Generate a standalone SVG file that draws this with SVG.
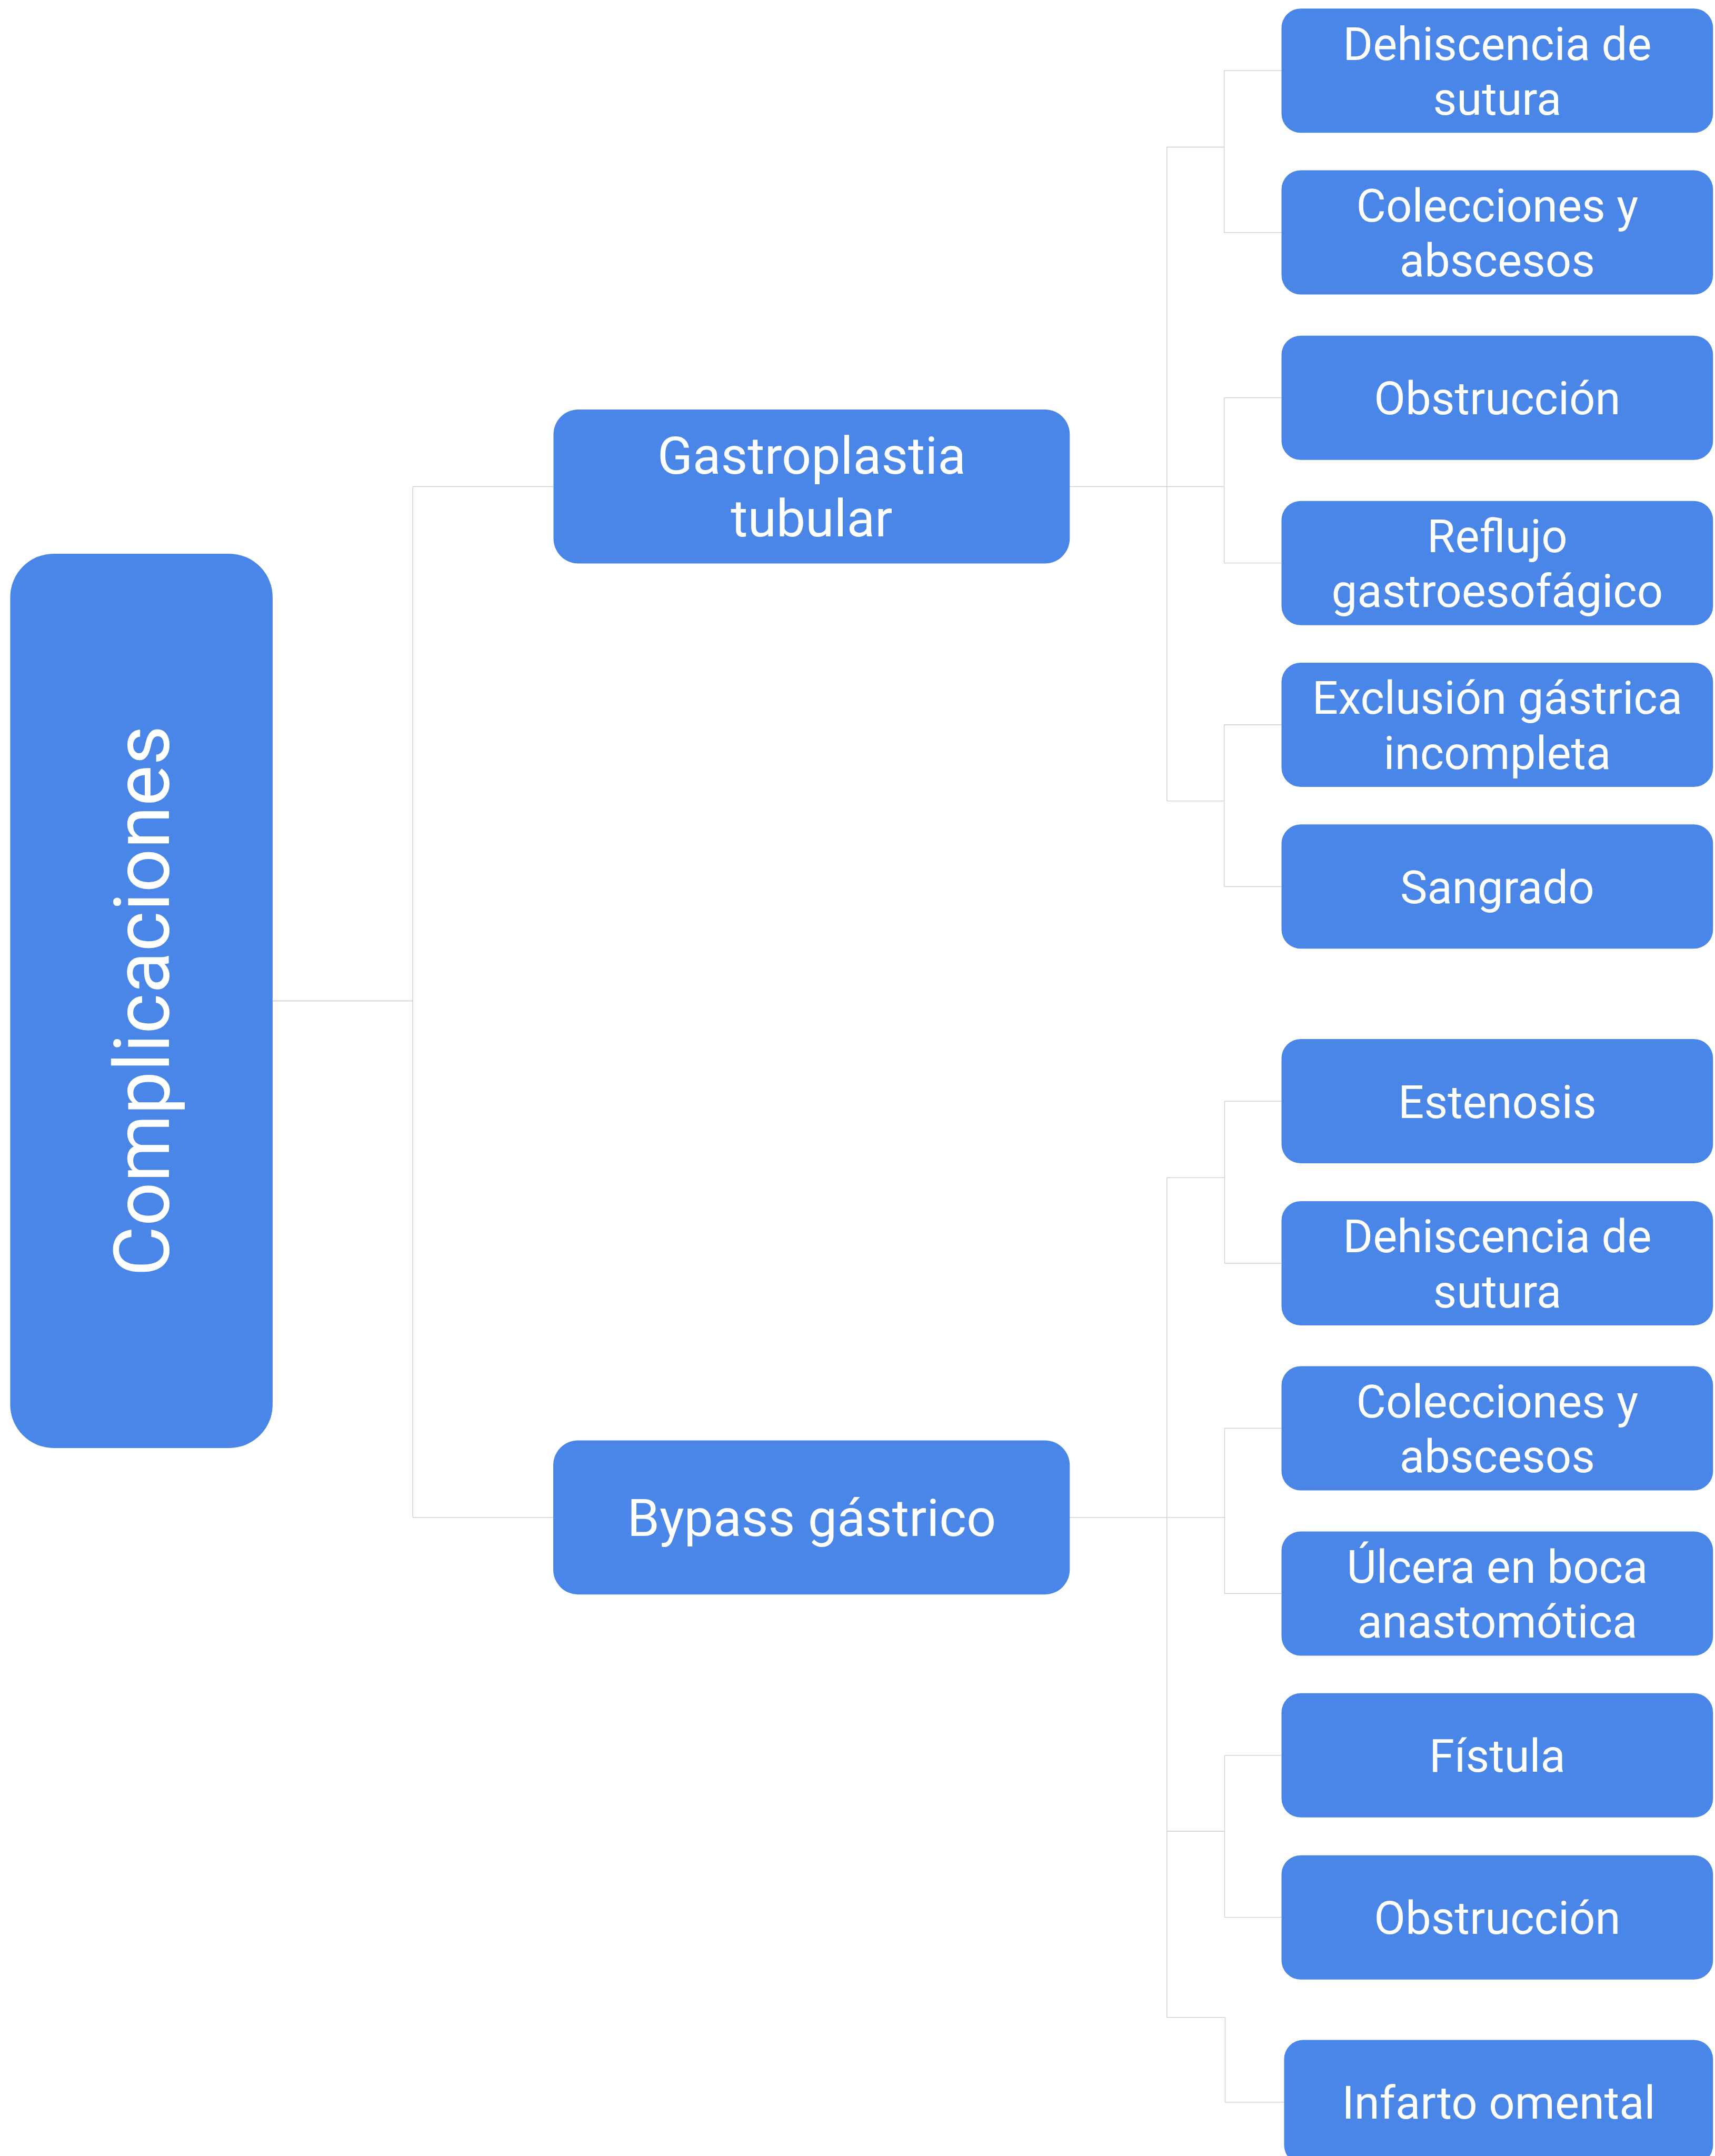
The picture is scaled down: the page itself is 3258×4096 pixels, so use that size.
<svg xmlns="http://www.w3.org/2000/svg" width="3258" height="4096" viewBox="0 0 3258 4096">
<style>
.box{fill:#4a86e8}
.t{font-family:Roboto,"Liberation Sans",sans-serif;fill:#ffffff;text-anchor:middle}
.root{font-size:146.4px}
.mid{font-size:98.6px}
.leaf{font-size:86.8px}
.c{fill:none;stroke:#cccccc;stroke-width:1.3}
</style>
<rect width="3258" height="4096" fill="#ffffff"/>
<g id="connectors">
<path class="c" d="M517.9,1901.5H784.1M784.1,924.4V2882.8M784.1,924.4H1051.5M784.1,2882.8H1051.5"/>
<path class="c" d="M2032.2,924.4H2216.7M2216.7,279.5V1521.6M2216.7,279.5H2325.6M2216.7,924.4H2325.6M2216.7,1521.6H2325.6"/>
<path class="c" d="M2325.6,134.3V441.7M2325.6,134.3H2434.5M2325.6,441.7H2434.5"/>
<path class="c" d="M2325.6,755.6V1069.6M2325.6,755.6H2434.5M2325.6,1069.6H2434.5"/>
<path class="c" d="M2325.6,1377V1684.3M2325.6,1377H2434.5M2325.6,1684.3H2434.5"/>
<path class="c" d="M2032.2,2882.8H2216.7M2216.7,2237.3V3832.7M2216.7,2237.3H2326.5M2216.7,2882.8H2326.5M2216.7,3479H2326.5M2216.7,3832.7H2327.5"/>
<path class="c" d="M2326.5,2092.1V2400M2326.5,2092.1H2434.5M2326.5,2400H2434.5"/>
<path class="c" d="M2326.5,2713.4V3027.4M2326.5,2713.4H2434.5M2326.5,3027.4H2434.5"/>
<path class="c" d="M2326.5,3334.8V3642.7M2326.5,3334.8H2434.5M2326.5,3642.7H2434.5"/>
<path class="c" d="M2327.5,3832.7V3993.6H2439.4"/>
</g>
<g id="root">
<rect class="box" x="19.4" y="1052.1" width="498.5" height="1698.8" rx="82.3"/>
<text class="t root" transform="translate(268.6,1901.5) rotate(-90)" x="0" y="52.7">Complicaciones</text>
</g>
<g id="gastroplastia">
<rect class="box" x="1051.5" y="778" width="980.7" height="292.5" rx="47.2"/>
<text class="t mid" x="1541.8" y="900.2">Gastroplastia</text>
<text class="t mid" x="1541.8" y="1018.8">tubular</text>
</g>
<g id="bypass">
<rect class="box" x="1051" y="2736.4" width="981.2" height="292.8" rx="47.2"/>
<text class="t mid" x="1541.8" y="2917.9">Bypass gástrico</text>
</g>
<g id="g1">
<rect class="box" x="2434.5" y="16.3" width="819.8" height="236" rx="36.3"/>
<text class="t leaf" x="2844.4" y="113.7">Dehiscencia de</text>
<text class="t leaf" x="2844.4" y="217.8">sutura</text>
</g>
<g id="g2">
<rect class="box" x="2434.5" y="323.4" width="819.8" height="236" rx="36.3"/>
<text class="t leaf" x="2844.4" y="421.1">Colecciones y</text>
<text class="t leaf" x="2844.4" y="525.2">abscesos</text>
</g>
<g id="g3">
<rect class="box" x="2434.5" y="637.7" width="819.8" height="236" rx="36.3"/>
<text class="t leaf" x="2844.4" y="787.1">Obstrucción</text>
</g>
<g id="g4">
<rect class="box" x="2434.5" y="951.7" width="819.8" height="236" rx="36.3"/>
<text class="t leaf" x="2844.4" y="1049">Reflujo</text>
<text class="t leaf" x="2844.4" y="1153.1">gastroesofágico</text>
</g>
<g id="g5">
<rect class="box" x="2434.5" y="1259" width="819.8" height="236" rx="36.3"/>
<text class="t leaf" x="2844.4" y="1356.4">Exclusión gástrica</text>
<text class="t leaf" x="2844.4" y="1460.5">incompleta</text>
</g>
<g id="g6">
<rect class="box" x="2434.5" y="1566.3" width="819.8" height="236" rx="36.3"/>
<text class="t leaf" x="2844.4" y="1715.8">Sangrado</text>
</g>
<g id="b1">
<rect class="box" x="2434.5" y="1974.1" width="819.8" height="236" rx="36.3"/>
<text class="t leaf" x="2844.4" y="2123.6">Estenosis</text>
</g>
<g id="b2">
<rect class="box" x="2434.5" y="2282.1" width="819.8" height="236" rx="36.3"/>
<text class="t leaf" x="2844.4" y="2379.4">Dehiscencia de</text>
<text class="t leaf" x="2844.4" y="2483.5">sutura</text>
</g>
<g id="b3">
<rect class="box" x="2434.5" y="2595.5" width="819.8" height="236" rx="36.3"/>
<text class="t leaf" x="2844.4" y="2692.8">Colecciones y</text>
<text class="t leaf" x="2844.4" y="2796.9">abscesos</text>
</g>
<g id="b4">
<rect class="box" x="2434.5" y="2909.4" width="819.8" height="236" rx="36.3"/>
<text class="t leaf" x="2844.4" y="3006.8">Úlcera en boca</text>
<text class="t leaf" x="2844.4" y="3110.9">anastomótica</text>
</g>
<g id="b5">
<rect class="box" x="2434.5" y="3216.8" width="819.8" height="236" rx="36.3"/>
<text class="t leaf" x="2844.4" y="3366.3">Fístula</text>
</g>
<g id="b6">
<rect class="box" x="2434.5" y="3524.7" width="819.8" height="236" rx="36.3"/>
<text class="t leaf" x="2844.4" y="3674.2">Obstrucción</text>
</g>
<g id="b7">
<rect class="box" x="2439.4" y="3875.6" width="814.9" height="236" rx="36.3"/>
<text class="t leaf" x="2846.9" y="4025.1">Infarto omental</text>
</g>
</svg>
